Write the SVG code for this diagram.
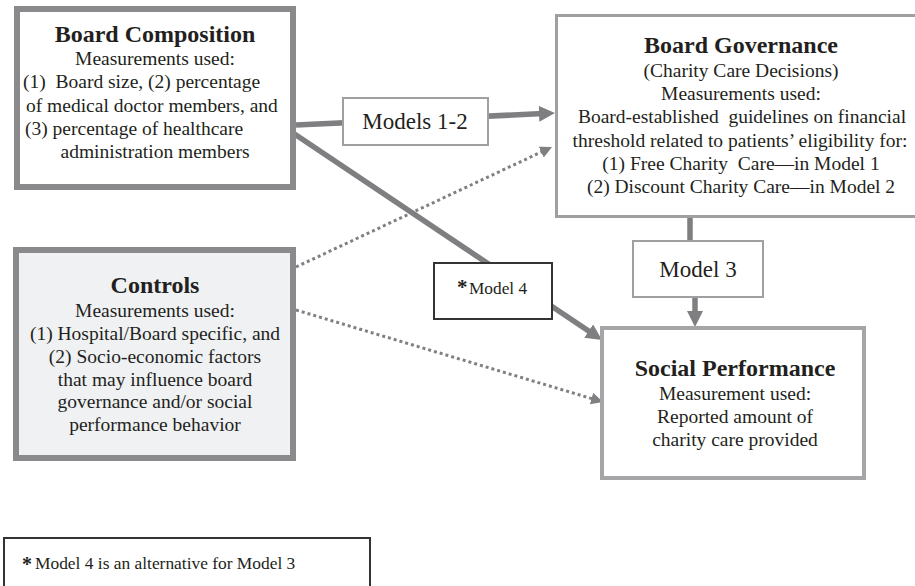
<svg xmlns="http://www.w3.org/2000/svg" width="915" height="586" viewBox="0 0 915 586">
<style>
  text { font-family: "Liberation Serif", Tinos, "Times New Roman", serif; fill: #231f20; }
  .t { font-size: 24px; font-weight: bold; text-anchor: middle; }
  .b { font-size: 19.5px; }
  .m { text-anchor: middle; }
  .lbl { font-size: 23px; text-anchor: middle; }
  .solid { stroke: #7f7f82; stroke-width: 5.5; fill: none; }
  .dot { stroke: #808083; stroke-width: 3; stroke-dasharray: 3 3; fill: none; }
</style>
<defs>
  <marker id="ah" markerUnits="userSpaceOnUse" markerWidth="18" markerHeight="18" refX="4" refY="8" orient="auto">
    <path d="M0,0 L16,8 L0,16 z" fill="#7f7f82"/>
  </marker>
  <marker id="ahs" markerUnits="userSpaceOnUse" markerWidth="14" markerHeight="14" refX="3" refY="6" orient="auto">
    <path d="M0,0 L12,6 L0,12 z" fill="#808083"/>
  </marker>
</defs>
<rect width="915" height="586" fill="#ffffff"/>

<g id="connectors">
  <line class="solid" x1="296" y1="125" x2="543" y2="113.6" marker-end="url(#ah)"/>
  <line class="solid" x1="293" y1="133" x2="592" y2="333.3" marker-end="url(#ah)"/>
  <line class="solid" x1="690" y1="216" x2="690" y2="242"/>
  <line class="solid" x1="695" y1="296" x2="695" y2="315" marker-end="url(#ah)"/>
  <line class="dot" x1="296" y1="267" x2="543.9" y2="150.8" marker-end="url(#ahs)"/>
  <line class="dot" x1="296" y1="310" x2="594.4" y2="399.4" marker-end="url(#ahs)"/>
</g>

<g id="board-composition">
  <rect x="17" y="9" width="276" height="178" fill="#ffffff" stroke="#8a8a8d" stroke-width="6"/>
  <text class="t" x="155" y="42">Board Composition</text>
  <text class="b m" x="155" y="65">Measurements used:</text>
  <text class="b" x="23" y="88" xml:space="preserve">(1)  Board size, (2) percentage</text>
  <text class="b" x="26" y="112">of medical doctor members, and</text>
  <text class="b" x="25" y="135">(3) percentage of healthcare</text>
  <text class="b m" x="155" y="158">administration members</text>
</g>

<g id="board-governance">
  <rect x="556.5" y="15.5" width="372" height="201" fill="#ffffff" stroke="#a0a0a3" stroke-width="3"/>
  <text class="t" x="741" y="53">Board Governance</text>
  <text class="b m" x="741" y="77">(Charity Care Decisions)</text>
  <text class="b m" x="741" y="100">Measurements used:</text>
  <text class="b m" x="742" y="123" xml:space="preserve">Board-established  guidelines on financial</text>
  <text class="b m" x="740" y="147">threshold related to patients’ eligibility for:</text>
  <text class="b m" x="741" y="170" xml:space="preserve">(1) Free Charity  Care—in Model 1</text>
  <text class="b m" x="741" y="193">(2) Discount Charity Care—in Model 2</text>
</g>

<g id="controls">
  <rect x="16" y="250" width="277" height="208" fill="#f0f1f3" stroke="#8a8a8d" stroke-width="6"/>
  <text class="t" x="155" y="293">Controls</text>
  <text class="b m" x="155" y="317">Measurements used:</text>
  <text class="b m" x="155" y="340">(1) Hospital/Board specific, and</text>
  <text class="b m" x="155" y="363">(2) Socio-economic factors</text>
  <text class="b m" x="155" y="386">that may influence board</text>
  <text class="b m" x="155" y="408">governance and/or social</text>
  <text class="b m" x="155" y="431">performance behavior</text>
</g>

<g id="social-performance">
  <rect x="602" y="328" width="262" height="150" fill="#ffffff" stroke="#a5a5a8" stroke-width="4"/>
  <text class="t" x="735" y="376">Social Performance</text>
  <text class="b m" x="735" y="400">Measurement used:</text>
  <text class="b m" x="735" y="423">Reported amount of</text>
  <text class="b m" x="735" y="446">charity care provided</text>
</g>

<g id="models-1-2">
  <rect x="343" y="98" width="145" height="47" fill="#ffffff" stroke="#a0a0a3" stroke-width="2"/>
  <text class="lbl" x="415" y="129">Models 1-2</text>
</g>

<g id="model-3">
  <rect x="633" y="241" width="130" height="56" fill="#ffffff" stroke="#a0a0a3" stroke-width="2"/>
  <text class="lbl" x="698" y="277">Model 3</text>
</g>

<g id="model-4">
  <rect x="434" y="263" width="118" height="56" fill="#ffffff" stroke="#333333" stroke-width="2"/>
  <text x="457" y="294" style="font-size:21px; font-weight:bold">*</text>
  <text x="469" y="294" style="font-size:17.3px">Model 4</text>
</g>

<g id="footnote">
  <rect x="4" y="538" width="366" height="60" fill="none" stroke="#333333" stroke-width="2"/>
  <text x="22" y="571" style="font-size:20px; font-weight:bold">*</text>
  <text x="35" y="569" style="font-size:17.4px">Model 4 is an alternative for Model 3</text>
</g>
</svg>
